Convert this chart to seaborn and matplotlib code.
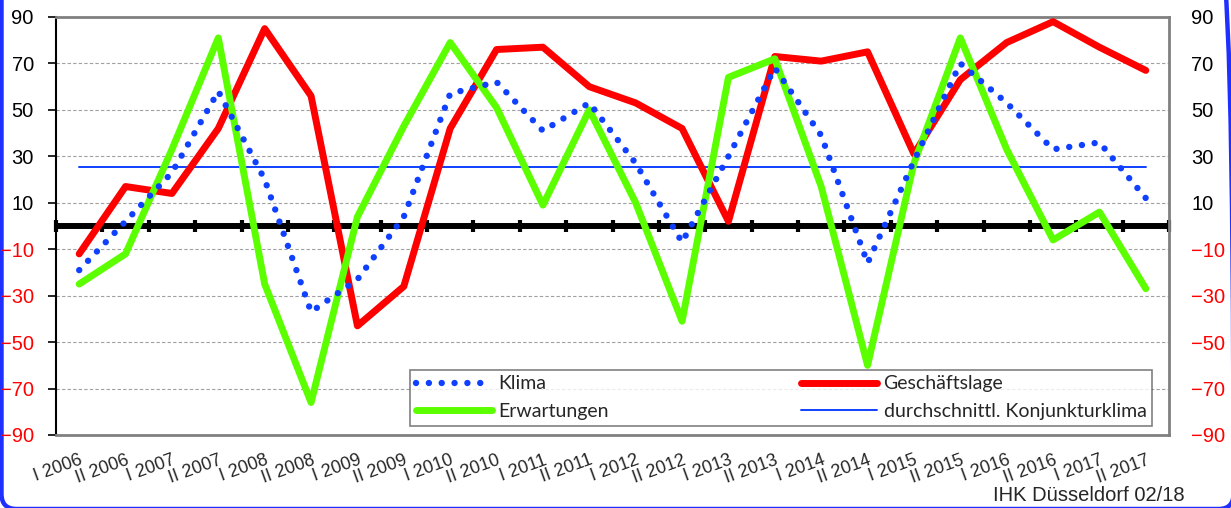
import matplotlib
matplotlib.use("Agg")
import matplotlib.pyplot as plt
import matplotlib.patches as mpatches
import matplotlib.transforms as mtransforms
from matplotlib.lines import Line2D
import numpy as np
import pandas as pd
import seaborn as sns

# --- data ---
periods = [
    "I 2006", "II 2006", "I 2007", "II 2007", "I 2008", "II 2008",
    "I 2009", "II 2009", "I 2010", "II 2010", "I 2011", "II 2011",
    "I 2012", "II 2012", "I 2013", "II 2013", "I 2014", "II 2014",
    "I 2015", "II 2015", "I 2016", "II 2016", "I 2017", "II 2017",
]
klima = [-19, 2, 23, 58, 20, -37, -23, 4, 57, 62, 41, 53,
         27, -7, 30, 68, 39, -16, 28, 70, 53, 33, 36, 12]
geschaeftslage = [-12, 17, 14, 42, 85, 56, -43, -26, 42, 76, 77, 60,
                  53, 42, 2, 73, 71, 75, 31, 63, 79, 88, 77, 67]
erwartungen = [-25, -12, 33, 81, -25, -76, 4, 43, 79, 51, 9, 50,
               10, -41, 64, 72, 17, -60, 27, 81, 33, -6, 6, -27]
avg_klima = 25.6
y_ticks = [-90, -70, -50, -30, -10, 10, 30, 50, 70, 90]

RED = "#FF0000"
GREEN = "#5CFF00"
BLUE = "#1040FF"

df = pd.DataFrame({
    "period": periods,
    "Klima": klima,
    "Geschäftslage": geschaeftslage,
    "Erwartungen": erwartungen,
    "avg": [avg_klima] * len(periods),
})
pos = np.arange(len(periods))

sns.set_style("white")
plt.rcParams["font.family"] = ["Liberation Sans", "DejaVu Sans"]

fig = plt.figure(figsize=(12.31, 5.08), dpi=100)
ax = fig.add_axes([56 / 1231, 1 - 435 / 508, 1113 / 1231, 418 / 508])

# grid
for yv in y_ticks:
    ax.axhline(yv, color="#A0A0A0", lw=0.8, ls=(0, (3, 2)), zorder=0)

# zero line with category-boundary ticks
ax.axhline(0, color="black", lw=4.3, zorder=1)
bounds = np.append(pos - 0.5, pos[-1] + 0.5)
ax.plot(bounds, np.zeros_like(bounds), ls="none", marker="|", ms=8,
        mew=3, color="black", zorder=1, clip_on=False)

sns.lineplot(data=df, x=pos, y="avg", color=BLUE, lw=1.4, ax=ax, zorder=2)
sns.lineplot(data=df, x=pos, y="Geschäftslage", color=RED, lw=5,
             solid_capstyle="round", ax=ax, zorder=3)
sns.lineplot(data=df, x=pos, y="Erwartungen", color=GREEN, lw=5,
             solid_capstyle="round", ax=ax, zorder=4)
sns.lineplot(data=df, x=pos, y="Klima", color=BLUE, lw=4.6,
             ls=(0, (0.01, 2.0)), dash_capstyle="round", ax=ax, zorder=5)

ax.set_xlim(-0.5, len(periods) - 0.5)
ax.set_ylim(-90, 90)
ax.set_xlabel("")
ax.set_ylabel("")

ax.set_xticks(pos)
ax.set_xticklabels(periods, rotation=20, ha="right", va="top",
                   rotation_mode="anchor", fontsize=13)
ax.tick_params(axis="x", length=0, pad=12)

ax.set_yticks(y_ticks)
ax.tick_params(axis="y", left=True, right=False, labelleft=True,
               labelright=True, direction="out", length=6, width=1.2,
               pad=10, labelsize=14.5, color="black")
for t, v in zip(ax.yaxis.get_major_ticks(), y_ticks):
    c = RED if v < 0 else "black"
    t.label1.set_color(c)
    t.label2.set_color(c)
    t.label2.set_x(1.0)

for side in ["top", "right", "bottom"]:
    ax.spines[side].set_color("#808080")
    ax.spines[side].set_linewidth(2)
ax.spines["left"].set_color("black")
ax.spines["left"].set_linewidth(1.5)

# legend
handles = [
    Line2D([], [], color=BLUE, lw=4.6, ls=(0, (0.01, 2.0)), dash_capstyle="round"),
    Line2D([], [], color=GREEN, lw=5, solid_capstyle="round"),
    Line2D([], [], color=RED, lw=5, solid_capstyle="round"),
    Line2D([], [], color=BLUE, lw=1.4),
]
labels = ["Klima", "Erwartungen", "Geschäftslage", "durchschnittl. Konjunkturklima"]
leg = ax.legend(handles, labels, ncol=2, loc="lower left",
                bbox_to_anchor=(0.318, 0.0215, 0.667, 0.141), mode="expand",
                frameon=True, fancybox=False, edgecolor="#606060",
                handlelength=3.9, handletextpad=0.35, borderaxespad=0,
                labelspacing=0.55, borderpad=0.3,
                prop={"family": "Lato", "size": 14})
leg.get_frame().set_linewidth(1.2)
leg.set_zorder(10)

fig.text(1185 / 1231, 1 - 501 / 508, "IHK Düsseldorf 02/18", ha="right",
         va="baseline", fontsize=14.5)

# rounded blue frame, mostly outside the canvas
frame = mpatches.FancyBboxPatch((1.5, -1), 1232, 560,
                                boxstyle="round,pad=0,rounding_size=15",
                                transform=mtransforms.IdentityTransform(),
                                fill=False, edgecolor="#1F2FFF", lw=3.2,
                                zorder=-1)
fig.add_artist(frame)

fig.savefig("out.png", dpi=100, facecolor="white")
